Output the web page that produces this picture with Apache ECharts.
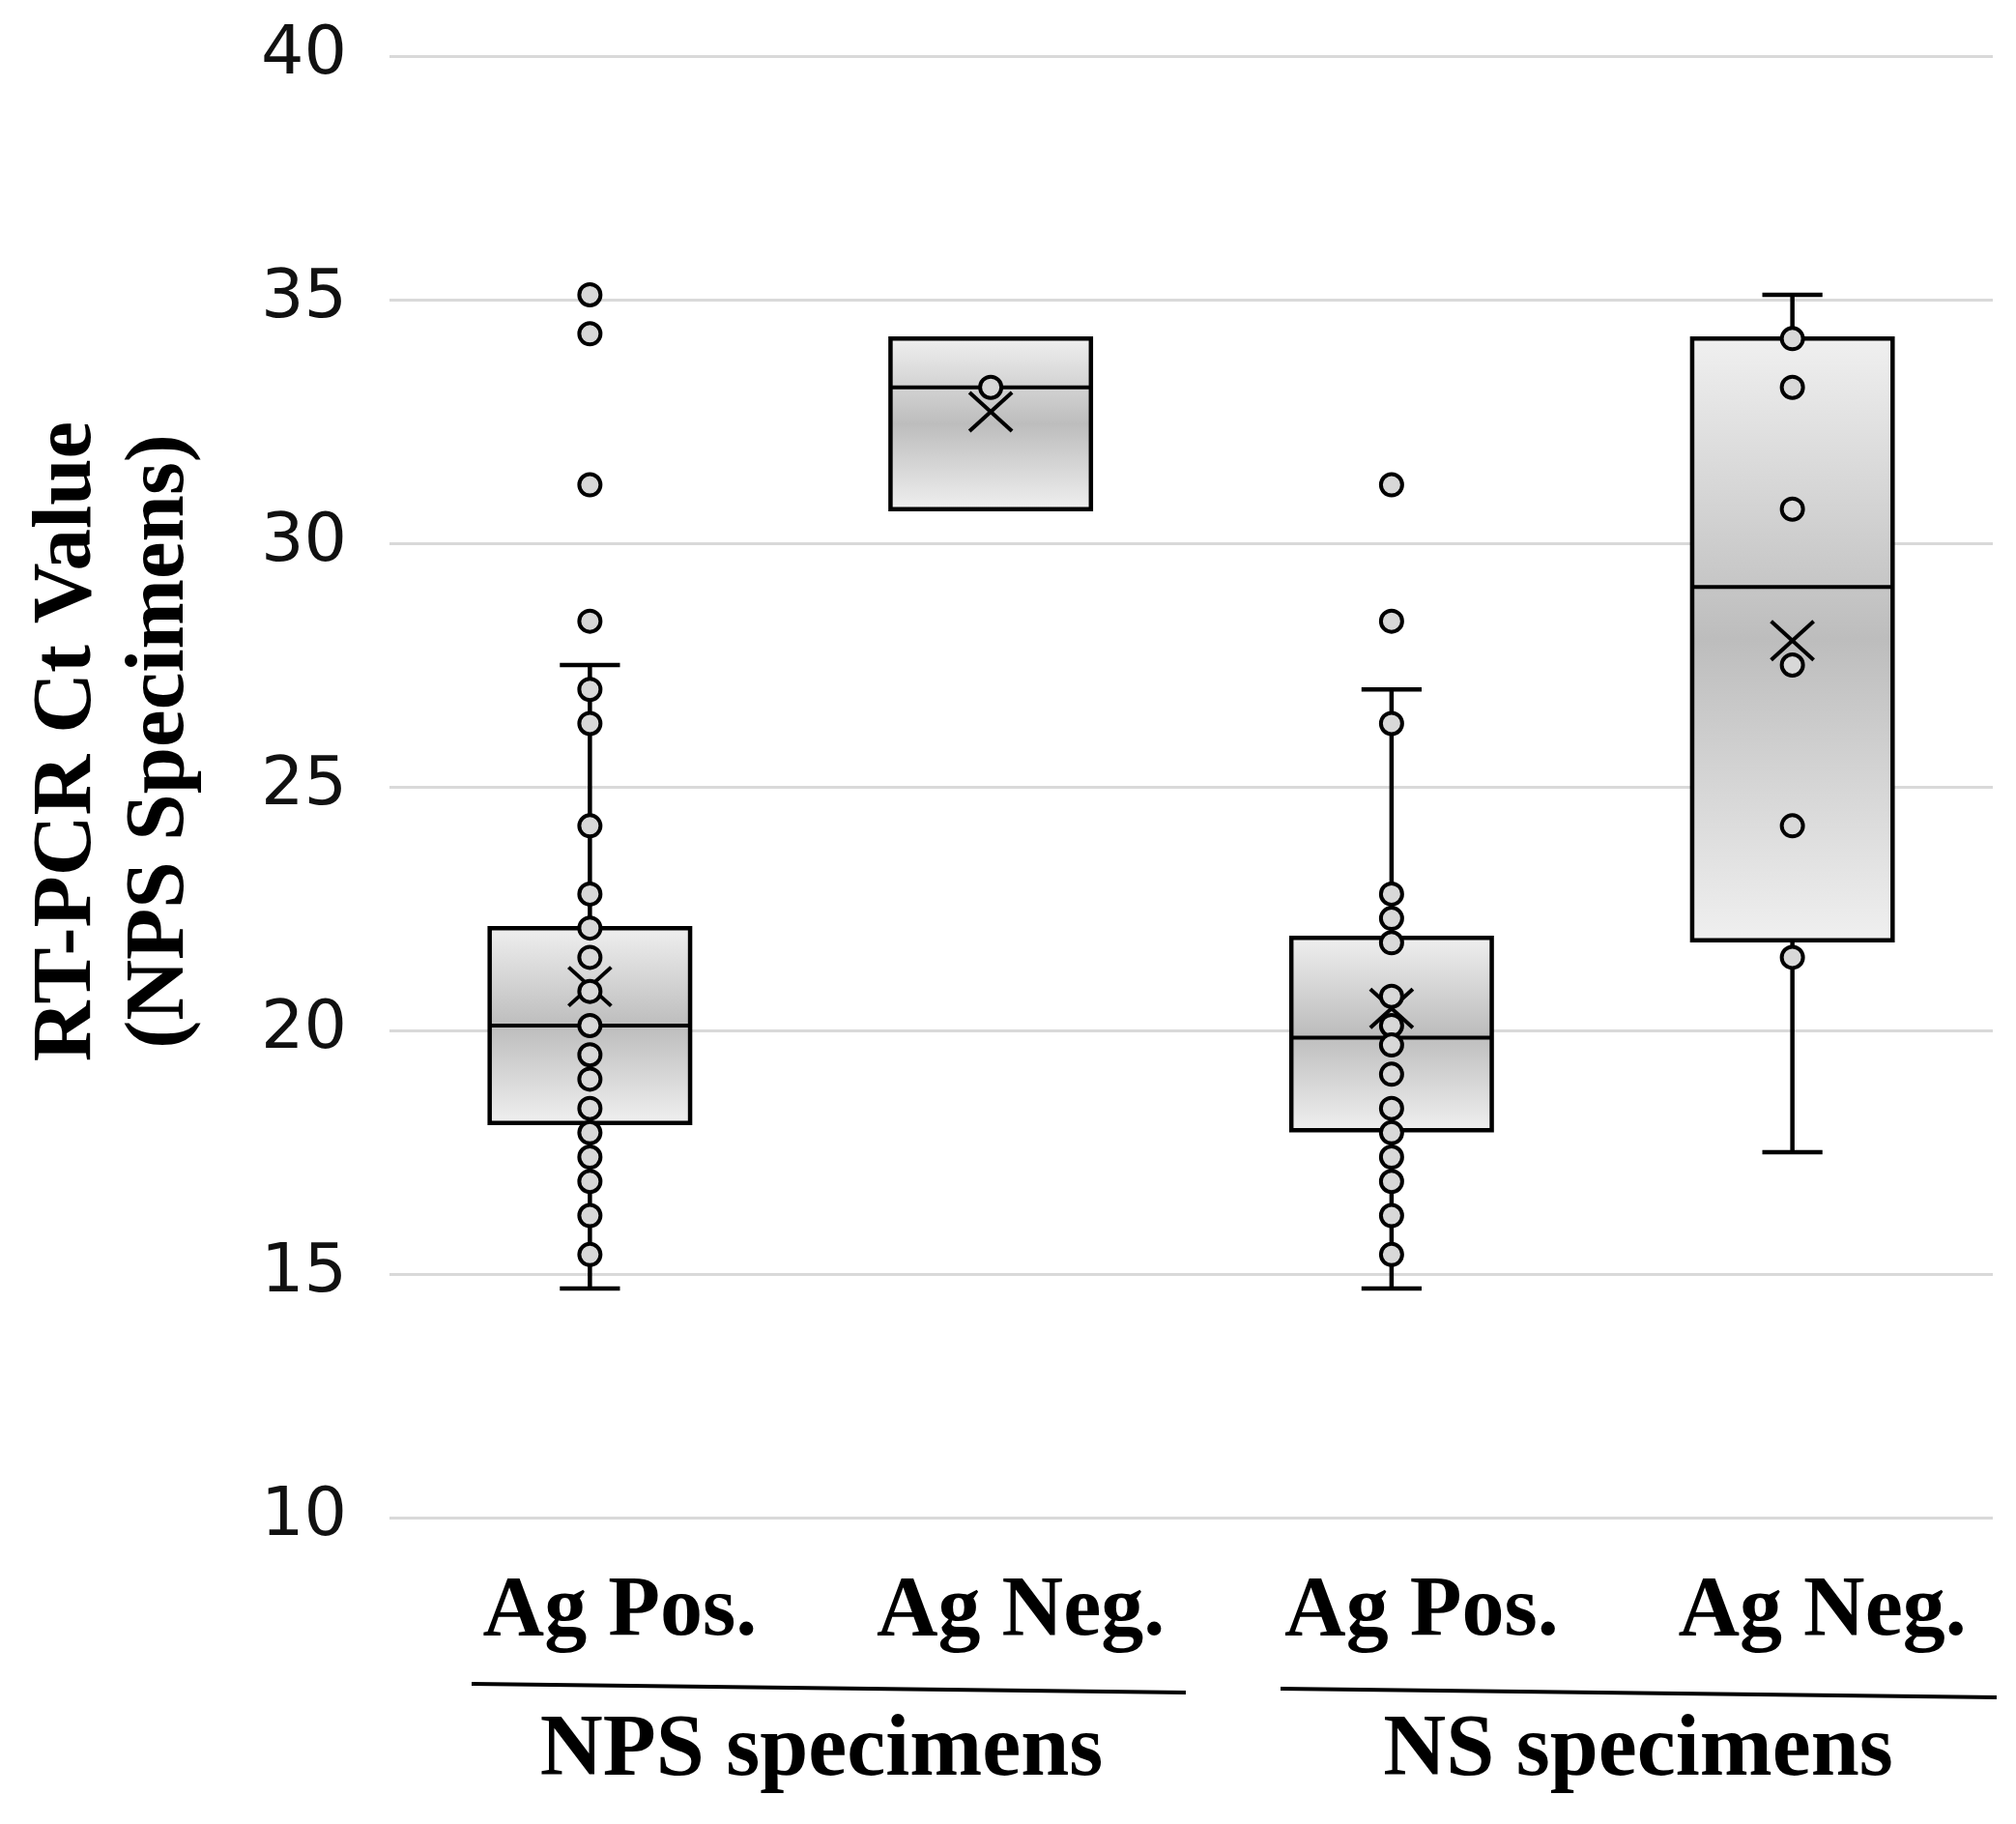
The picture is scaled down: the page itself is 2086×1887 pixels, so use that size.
<!DOCTYPE html>
<html>
<head>
<meta charset="utf-8">
<script src="https://cdn.jsdelivr.net/npm/echarts@6/dist/echarts.min.js"></script>
<style>
html,body{margin:0;padding:0;background:#fff;}
#chart{width:2086px;height:1887px;}
</style>
</head>
<body>
<div id="chart"></div>
<script>
// ---- data ----
var categories = ['Ag Pos.', 'Ag Neg.', 'Ag Pos.', 'Ag Neg.'];
var groupLabels = ['NPS specimens', 'NS specimens'];
var yTicks = [10, 15, 20, 25, 30, 35, 40];
var whiskerLow  = [14.7, 30.7, 14.7, 17.5];
var q1          = [18.1, 30.7, 17.95, 21.85];
var median      = [20.1, 33.2, 19.85, 29.1];
var q3          = [22.1, 34.2, 21.9, 34.2];
var whiskerHigh = [27.5, 34.2, 27.0, 35.1];
var means       = [20.9, 32.7, 20.45, 28.0];
var pointsNPSPos = [35.1, 34.3, 31.2, 28.4, 27.0, 26.3, 24.2, 22.8, 22.1, 21.5, 20.8, 20.1, 19.5, 19.0, 18.4, 17.9, 17.4, 16.9, 16.2, 15.4];
var pointsNPSNeg = [33.2];
var pointsNSPos  = [31.2, 28.4, 26.3, 22.8, 22.3, 21.8, 20.7, 20.1, 19.7, 19.1, 18.4, 17.9, 17.4, 16.9, 16.2, 15.4];
var pointsNSNeg  = [34.2, 33.2, 30.7, 27.5, 24.2, 21.5];

var allPoints = [pointsNPSPos, pointsNPSNeg, pointsNSPos, pointsNSNeg];

var boxData = categories.map(function (c, i) {
  return [i, whiskerLow[i], q1[i], median[i], q3[i], whiskerHigh[i], means[i]];
});
var pointData = [];
allPoints.forEach(function (arr, i) {
  arr.forEach(function (v) { pointData.push([i, v]); });
});

var chart = echarts.init(document.getElementById('chart'));
var serif = '"Liberation Serif", "DejaVu Serif", serif';

function renderBox(params, api) {
  var i = api.value(0);
  var band = api.size([1, 0])[0];
  var bw = band * 0.5, cw = band * 0.15;
  var pLow = api.coord([i, api.value(1)]);
  var pQ1 = api.coord([i, api.value(2)]);
  var pMed = api.coord([i, api.value(3)]);
  var pQ3 = api.coord([i, api.value(4)]);
  var pHigh = api.coord([i, api.value(5)]);
  var pMean = api.coord([i, api.value(6)]);
  var cx = pMed[0];
  var lineStyle = { stroke: '#000', lineWidth: 4.5 };
  var children = [
    { type: 'line', shape: { x1: cx, y1: pHigh[1], x2: cx, y2: pQ3[1] }, style: lineStyle },
    { type: 'line', shape: { x1: cx, y1: pLow[1], x2: cx, y2: pQ1[1] }, style: lineStyle },
    { type: 'line', shape: { x1: cx - cw / 2, y1: pHigh[1], x2: cx + cw / 2, y2: pHigh[1] }, style: lineStyle },
    { type: 'line', shape: { x1: cx - cw / 2, y1: pLow[1], x2: cx + cw / 2, y2: pLow[1] }, style: lineStyle },
    { type: 'rect', shape: { x: cx - bw / 2, y: pQ3[1], width: bw, height: pQ1[1] - pQ3[1] },
      style: {
        fill: new echarts.graphic.LinearGradient(0, 0, 0, 1, [
          { offset: 0, color: '#f0f0f0' },
          { offset: 0.5, color: '#bdbdbd' },
          { offset: 1, color: '#f0f0f0' }
        ]),
        stroke: '#000', lineWidth: 4.5
      } },
    { type: 'line', shape: { x1: cx - bw / 2, y1: pMed[1], x2: cx + bw / 2, y2: pMed[1] }, style: { stroke: '#000', lineWidth: 4 } },
    { type: 'line', shape: { x1: cx - 22, y1: pMean[1] - 20, x2: cx + 22, y2: pMean[1] + 20 }, style: { stroke: '#000', lineWidth: 4 } },
    { type: 'line', shape: { x1: cx - 22, y1: pMean[1] + 20, x2: cx + 22, y2: pMean[1] - 20 }, style: { stroke: '#000', lineWidth: 4 } }
  ];
  return { type: 'group', children: children };
}

var option = {
  backgroundColor: '#fff',
  animation: false,
  grid: { left: 403, right: 24, top: 58, bottom: 317 },
  xAxis: {
    type: 'category',
    data: categories,
    axisLine: { show: false },
    axisTick: { show: false },
    splitLine: { show: false },
    axisLabel: {
      interval: 0,
      margin: 54,
      fontFamily: serif,
      fontWeight: 'bold',
      fontSize: 88,
      color: '#000',
      padding: [0, 0, 0, 62]
    }
  },
  yAxis: {
    type: 'value',
    min: yTicks[0],
    max: yTicks[yTicks.length - 1],
    interval: 5,
    axisLine: { show: false },
    axisTick: { show: false },
    splitLine: { show: true, lineStyle: { color: '#d9d9d9', width: 3 } },
    axisLabel: {
      margin: 44,
      fontFamily: '"DejaVu Sans", Verdana, sans-serif',
      fontSize: 70,
      color: '#111'
    }
  },
  series: [
    {
      type: 'custom',
      renderItem: renderBox,
      data: boxData,
      encode: { x: 0, y: [1, 2, 3, 4, 5, 6] },
      z: 2
    },
    {
      type: 'scatter',
      data: pointData,
      symbol: 'circle',
      symbolSize: 22,
      itemStyle: { color: '#d8d8d8', borderColor: '#000', borderWidth: 4, opacity: 1 },
      z: 3
    }
  ],
  graphic: [
    { type: 'line', shape: { x1: 488, y1: 1742, x2: 1227, y2: 1751 }, style: { stroke: '#000', lineWidth: 4 } },
    { type: 'line', shape: { x1: 1325, y1: 1747, x2: 2066, y2: 1756 }, style: { stroke: '#000', lineWidth: 4 } },
    { type: 'text', x: 850, y: 1813, style: { text: groupLabels[0], font: 'bold 90px ' + serif, fill: '#000', textAlign: 'center', textVerticalAlign: 'middle' } },
    { type: 'text', x: 1695, y: 1813, style: { text: groupLabels[1], font: 'bold 90px ' + serif, fill: '#000', textAlign: 'center', textVerticalAlign: 'middle' } },
    { type: 'text', x: 119, y: 767, rotation: Math.PI / 2,
      style: { text: 'RT-PCR Ct Value\n(NPS Specimens)', font: 'bold 87px ' + serif, lineHeight: 96, fill: '#000', textAlign: 'center', textVerticalAlign: 'middle' } }
  ]
};
chart.setOption(option);
</script>
</body>
</html>
